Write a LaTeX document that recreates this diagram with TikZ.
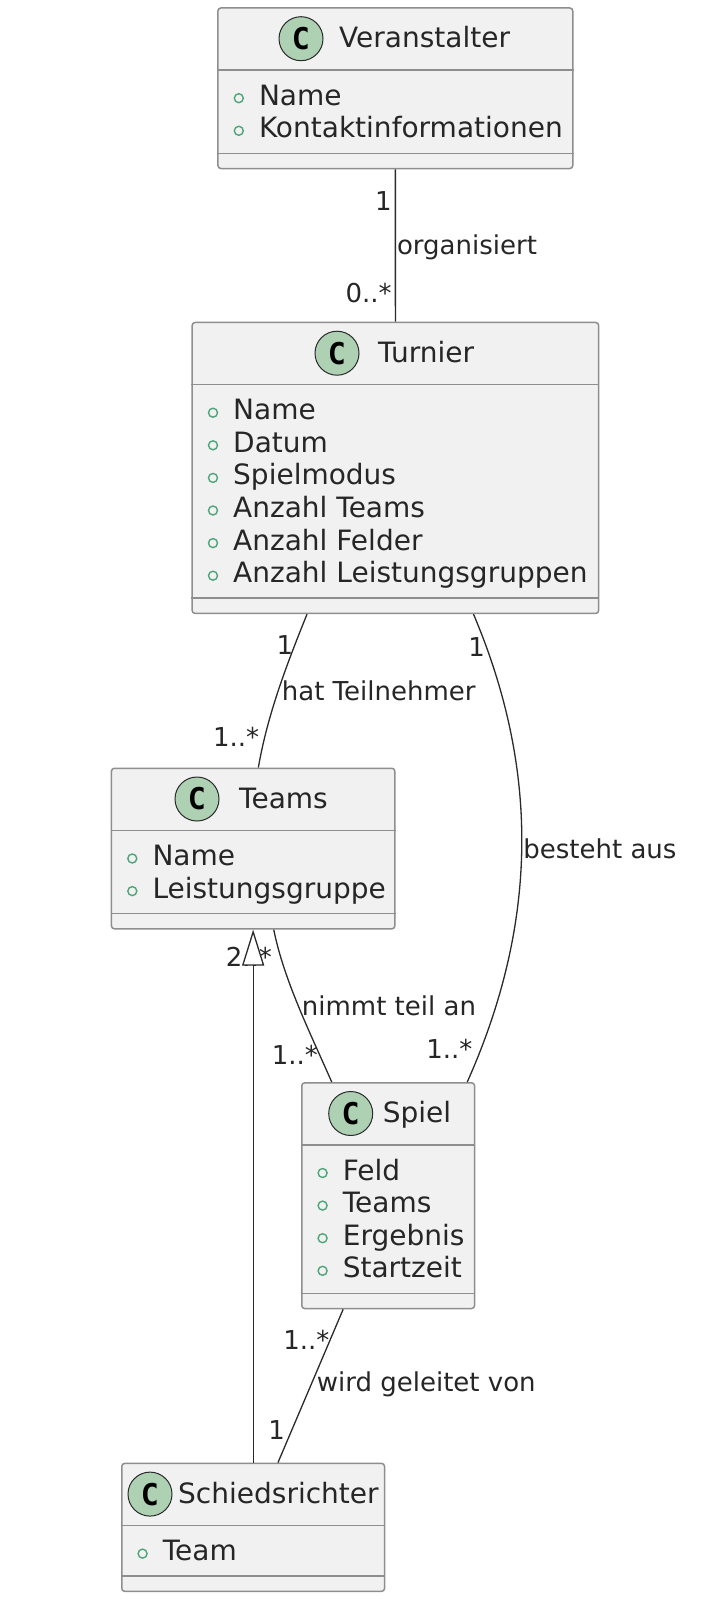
\documentclass[tikz,border=0pt]{standalone}
\usepackage{fontspec}
\setmainfont{DejaVu Sans}
\setmonofont{DejaVu Sans Mono}
\usetikzlibrary{positioning,arrows.meta}

\definecolor{umlfill}{HTML}{F1F1F1}
\definecolor{umlborder}{HTML}{8E8E8E}
\definecolor{umlicon}{HTML}{ADD1B2}
\definecolor{umlgreen}{HTML}{4FA57A}
\definecolor{umlline}{HTML}{2A2A2A}

\newcommand{\titlefont}{\fontsize{28}{34}\selectfont}
\newcommand{\labelfont}{\fontsize{26}{31}\selectfont}
\newcommand{\iconfont}{\fontsize{30}{34}\selectfont\ttfamily\bfseries}

\tikzset{
    classbox/.style={draw=umlborder, fill=umlfill, line width=1.5pt, rounded corners=3pt, inner sep=0pt, anchor=north west},
    divider/.style={draw=umlborder, line width=1.5pt},
    classicon/.style={circle, draw=umlline, fill=umlicon, line width=1pt, minimum size=44pt, inner sep=0pt, font=\iconfont},
    classname/.style={inner sep=0pt, anchor=base west, font=\titlefont, text=black!85},
    attr/.style={inner sep=0pt, anchor=base west, font=\titlefont, text=black!85},
    attrmark/.style={draw=umlgreen, line width=1.4pt},
    assoc/.style={draw=umlline, line width=1.3pt},
    mult/.style={inner sep=3pt, font=\labelfont, text=black!85},
    inherit/.style={draw=umlline, line width=1.3pt, -{Triangle[length=36pt, width=22pt, fill=white, line width=1.3pt]}}
}

\begin{document}
\begin{tikzpicture}[x=1pt, y=-1pt]
    \useasboundingbox (0,0) rectangle (722,1622);

    % Veranstalter
    \node[classbox, minimum width=354.8pt, minimum height=160.6pt] (veranstalter) at (217.2,7.2) {};
    \draw[divider] ([yshift=-63pt]veranstalter.north west) -- ([yshift=-63pt]veranstalter.north east);
    \draw[divider] ([yshift=16pt]veranstalter.south west) -- ([yshift=16pt]veranstalter.south east);
    \node[classicon] (veranstalter-icon) at (301,38.7) {C};
    \node[classname] (veranstalter-name) at (339,47.7) {Veranstalter};
    \foreach \a [count=\i from 0] in {Name, Kontaktinformationen} {
        \draw[attrmark] (238.8, 98.2+32.6*\i) circle (4.5pt);
        \node[attr] (veranstalter-a\i) at (258.8, 105.2+32.6*\i) {\a};
    }

    % Turnier
    \node[classbox, minimum width=406.5pt, minimum height=291pt] (turnier) at (191.4,321.7) {};
    \draw[divider] ([yshift=-63pt]turnier.north west) -- ([yshift=-63pt]turnier.north east);
    \draw[divider] ([yshift=16pt]turnier.south west) -- ([yshift=16pt]turnier.south east);
    \node[classicon] (turnier-icon) at (337,353.2) {C};
    \node[classname] (turnier-name) at (378,362.2) {Turnier};
    \foreach \a [count=\i from 0] in {Name, Datum, Spielmodus, Anzahl Teams, Anzahl Felder, Anzahl Leistungsgruppen} {
        \draw[attrmark] (213, 412.7+32.6*\i) circle (4.5pt);
        \node[attr] (turnier-a\i) at (233, 419.7+32.6*\i) {\a};
    }

    % Teams
    \node[classbox, minimum width=283.4pt, minimum height=160.6pt] (teams) at (110.7,767.5) {};
    \draw[divider] ([yshift=-63pt]teams.north west) -- ([yshift=-63pt]teams.north east);
    \draw[divider] ([yshift=16pt]teams.south west) -- ([yshift=16pt]teams.south east);
    \node[classicon] (teams-icon) at (197,799) {C};
    \node[classname] (teams-name) at (239,808) {Teams};
    \foreach \a [count=\i from 0] in {Name, Leistungsgruppe} {
        \draw[attrmark] (132.3, 858.5+32.6*\i) circle (4.5pt);
        \node[attr] (teams-a\i) at (152.3, 865.5+32.6*\i) {\a};
    }

    % Spiel
    \node[classbox, minimum width=172.8pt, minimum height=225.8pt] (spiel) at (301,1082) {};
    \draw[divider] ([yshift=-63pt]spiel.north west) -- ([yshift=-63pt]spiel.north east);
    \draw[divider] ([yshift=16pt]spiel.south west) -- ([yshift=16pt]spiel.south east);
    \node[classicon] (spiel-icon) at (350.7,1113.5) {C};
    \node[classname] (spiel-name) at (382.7,1122.5) {Spiel};
    \foreach \a [count=\i from 0] in {Feld, Teams, Ergebnis, Startzeit} {
        \draw[attrmark] (322.6, 1173+32.6*\i) circle (4.5pt);
        \node[attr] (spiel-a\i) at (342.6, 1180+32.6*\i) {\a};
    }

    % Schiedsrichter
    \node[classbox, minimum width=262.8pt, minimum height=128pt] (schiedsrichter) at (121,1462.6) {};
    \draw[divider] ([yshift=-63pt]schiedsrichter.north west) -- ([yshift=-63pt]schiedsrichter.north east);
    \draw[divider] ([yshift=16pt]schiedsrichter.south west) -- ([yshift=16pt]schiedsrichter.south east);
    \node[classicon] (schiedsrichter-icon) at (150,1494.1) {C};
    \node[classname] (schiedsrichter-name) at (178,1503.1) {Schiedsrichter};
    \draw[attrmark] (142.6, 1553.6) circle (4.5pt);
    \node[attr] (schiedsrichter-a0) at (162.6, 1560.6) {Team};

    % associations
    \draw[assoc] (veranstalter.south) -- node[mult, pos=.21, left] {1}
        node[mult, pos=.51, right, inner sep=1pt] {organisiert}
        node[mult, pos=.81, left] {0..*} (turnier.north);

    \draw[assoc] ([xshift=-88.4pt]turnier.south) .. controls +(-21,52) and +(9,-52) ..
        node[mult, pos=.2, left, inner sep=1pt] {1}
        node[mult, pos=.5, right] {hat Teilnehmer}
        node[mult, pos=.8, left, inner sep=5pt] {1..*} ([xshift=5.2pt]teams.north);

    \draw[assoc] ([xshift=78.1pt]turnier.south) .. controls +(67,158) and +(70,-157) ..
        node[mult, pos=.07, left, inner sep=1pt] {1}
        node[mult, pos=.5, right, inner sep=1pt] {besteht aus}
        node[mult, pos=.93, left, inner sep=8pt] {1..*} ([xshift=79.1pt]spiel.north);

    \draw[assoc] ([xshift=20.6pt]teams.south) .. controls +(10,50) and +(-22,-50) ..
        node[mult, pos=.18, left, inner sep=8pt] {2..*}
        node[mult, pos=.5, right] {nimmt teil an}
        node[mult, pos=.82, left, inner sep=1pt] {1..*} ([xshift=-56.4pt]spiel.north);

    \draw[assoc] ([xshift=-45pt]spiel.south) --
        node[mult, pos=.2, left, inner sep=0pt] {1..*}
        node[mult, pos=.49, right, inner sep=5pt] {wird geleitet von}
        node[mult, pos=.79, left, inner sep=6pt] {1} ([xshift=24.8pt]schiedsrichter.north);

    % generalisation
    \draw[inherit] (schiedsrichter.north) -- (teams.south);

\end{tikzpicture}
\end{document}
